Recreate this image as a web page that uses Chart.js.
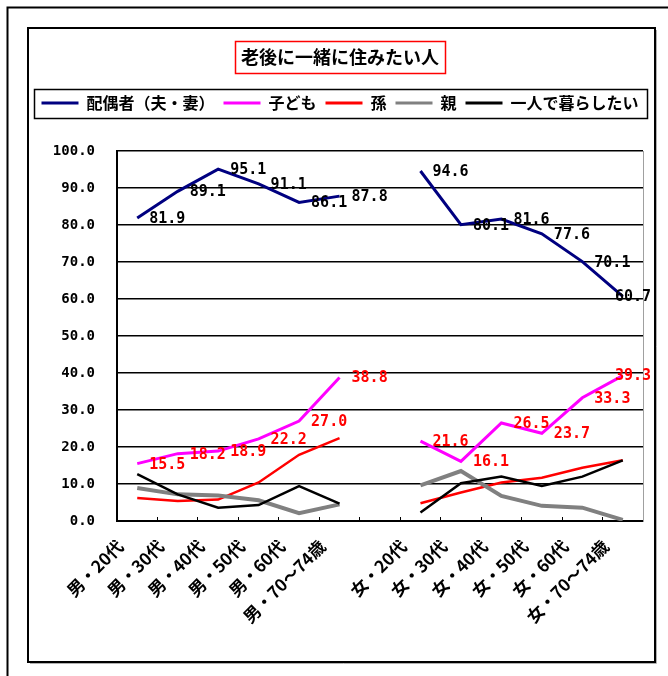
<!DOCTYPE html>
<html lang="ja">
<head>
<meta charset="utf-8">
<title>老後に一緒に住みたい人</title>
<script src="https://cdn.jsdelivr.net/npm/chart.js@4/dist/chart.umd.min.js"></script>
<style>
html, body { margin: 0; padding: 0; background: #fff; }
canvas { display: block; }
</style>
</head>
<body>
<canvas id="c" width="668" height="676"></canvas>
<script>
// Categories (blank slot separates the men's and women's groups)
const categories = ['男・20代', '男・30代', '男・40代', '男・50代', '男・60代', '男・70～74歳', '',
                    '女・20代', '女・30代', '女・40代', '女・50代', '女・60代', '女・70～74歳'];

// Series values (%)
const spouse        = [81.9, 89.1, 95.1, 91.1, 86.1, 87.8, null, 94.6, 80.1, 81.6, 77.6, 70.1, 60.7];
const children      = [15.5, 18.2, 18.9, 22.2, 27.0, 38.8, null, 21.6, 16.1, 26.5, 23.7, 33.3, 39.3];
const grandchildren = [6.2, 5.4, 5.8, 10.4, 17.9, 22.4, null, 4.8, 7.7, 10.4, 11.7, 14.4, 16.4];
const parents       = [8.9, 7.2, 6.9, 5.6, 2.1, 4.5, null, 9.6, 13.5, 6.8, 4.1, 3.6, 0.3];
const alone         = [12.7, 7.2, 3.6, 4.3, 9.4, 4.7, null, 2.3, 10.2, 12.0, 9.5, 12.0, 16.4];

const seriesNames = ['配偶者（夫・妻）', '子ども', '孫', '親', '一人で暮らしたい'];
const chartTitle = '老後に一緒に住みたい人';

// Value axis
const yMin = 0, yMax = 100, yStep = 10;

const CJK = '"Noto Sans CJK JP", sans-serif';
const NUM = '"DejaVu Sans Mono", "Noto Sans CJK JP", monospace';

const TITLE_SIZE = 18;
const TITLE_PAD = { top: 46, bottom: 18.4 };

// White page, sheet frame, chart frame, title box and legend box
const frames = {
  id: 'frames',
  beforeDraw(chart) {
    const ctx = chart.ctx;
    ctx.save();
    ctx.fillStyle = '#fff';
    ctx.fillRect(0, 0, chart.width, chart.height);
    ctx.restore();
  },
  afterDraw(chart) {
    const ctx = chart.ctx;
    ctx.save();
    // sheet frame
    ctx.strokeStyle = '#000';
    ctx.lineWidth = 2;
    ctx.beginPath();
    ctx.moveTo(7.5, chart.height);
    ctx.lineTo(7.5, 7.5);
    ctx.lineTo(chart.width, 7.5);
    ctx.stroke();
    // chart frame with a light shadow
    ctx.strokeStyle = '#b0b0b0';
    ctx.lineWidth = 1;
    ctx.beginPath();
    ctx.moveTo(30, 663.5);
    ctx.lineTo(656.5, 663.5);
    ctx.lineTo(656.5, 30);
    ctx.stroke();
    ctx.strokeStyle = '#000';
    ctx.lineWidth = 2;
    ctx.strokeRect(28, 28, 627, 634);

    // title box
    const tb = chart.titleBlock;
    if (tb) {
      ctx.font = 'bold ' + TITLE_SIZE + 'px ' + CJK;
      const w = ctx.measureText(chartTitle).width;
      const cx = (tb.left + tb.right) / 2;
      const cy = tb.top + TITLE_PAD.top + TITLE_SIZE * 1.2 / 2;
      ctx.strokeStyle = '#ff0000';
      ctx.lineWidth = 1.5;
      ctx.strokeRect(Math.round(cx - w / 2 - 6) + 0.5, Math.round(cy - 16) + 0.5, Math.round(w + 12), 32);
    }

    // legend box
    const lg = chart.legend;
    if (lg && lg.legendHitBoxes && lg.legendHitBoxes.length) {
      const hb = lg.legendHitBoxes;
      const left = Math.min(...hb.map(h => h.left)) - 7;
      const right = Math.max(...hb.map(h => h.left + h.width)) + 9;
      ctx.strokeStyle = '#000';
      ctx.lineWidth = 1.5;
      ctx.strokeRect(Math.round(left) + 0.5, Math.round(lg.top + 3) + 0.5, Math.round(right - left), 29);
    }
    ctx.restore();
  }
};

// Extra room between the legend and the plot area
const legendSpacer = {
  id: 'legendSpacer',
  beforeLayout(chart) {
    const lg = chart.legend;
    if (lg && !lg._spaced) {
      const fit = lg.fit;
      lg.fit = function () { fit.call(this); this.height += 30; };
      lg._spaced = true;
    }
  }
};

// Value labels for the spouse (black) and children (red) series
const valueLabels = {
  id: 'valueLabels',
  afterDatasetsDraw(chart) {
    const ctx = chart.ctx;
    ctx.save();
    ctx.font = 'bold 15px ' + NUM;
    ctx.textBaseline = 'middle';
    ctx.textAlign = 'left';
    [[0, '#000000'], [1, '#ff0000']].forEach(([di, color]) => {
      const ds = chart.data.datasets[di];
      chart.getDatasetMeta(di).data.forEach((pt, j) => {
        const v = ds.data[j];
        if (v === null || v === undefined) return;
        const text = v.toFixed(1);
        const w = ctx.measureText(text).width;
        let x = pt.x + 12;
        const maxX = chart.chartArea.right + 8;
        if (x + w > maxX) x = maxX - w;
        ctx.fillStyle = color;
        ctx.fillText(text, x, pt.y + 1);
      });
    });
    ctx.restore();
  }
};

new Chart(document.getElementById('c'), {
  type: 'line',
  data: {
    labels: categories,
    datasets: [
      { label: seriesNames[0], data: spouse,        borderColor: '#000080', backgroundColor: '#000080', borderWidth: 3,   order: 5 },
      { label: seriesNames[1], data: children,      borderColor: '#ff00ff', backgroundColor: '#ff00ff', borderWidth: 3,   order: 4 },
      { label: seriesNames[2], data: grandchildren, borderColor: '#ff0000', backgroundColor: '#ff0000', borderWidth: 2.5, order: 3 },
      { label: seriesNames[3], data: parents,       borderColor: '#808080', backgroundColor: '#808080', borderWidth: 4,   order: 2 },
      { label: seriesNames[4], data: alone,         borderColor: '#000000', backgroundColor: '#000000', borderWidth: 2.5, order: 1 }
    ]
  },
  options: {
    responsive: false,
    animation: false,
    devicePixelRatio: 1,
    spanGaps: false,
    layout: { padding: { left: 30, right: 18, top: 0, bottom: 0 } },
    elements: {
      point: { radius: 0, hoverRadius: 0 },
      line: { tension: 0, fill: false }
    },
    plugins: {
      tooltip: { enabled: false },
      title: {
        display: true,
        text: chartTitle,
        color: '#000',
        font: { family: CJK, size: TITLE_SIZE, weight: 'bold' },
        padding: TITLE_PAD
      },
      legend: {
        display: true,
        position: 'top',
        labels: {
          boxWidth: 37,
          boxHeight: 3,
          padding: 9,
          color: '#000',
          font: { family: CJK, size: 16, weight: 'bold' },
          generateLabels(chart) {
            return Chart.defaults.plugins.legend.labels.generateLabels(chart)
              .map(item => Object.assign(item, { fillStyle: item.strokeStyle, lineWidth: 0 }));
          },
          sort: (a, b) => a.datasetIndex - b.datasetIndex
        }
      }
    },
    scales: {
      x: {
        type: 'category',
        offset: true,
        grid: { offset: true, display: true, drawOnChartArea: false, drawTicks: true, tickLength: -4, color: '#000', lineWidth: 1 },
        border: { display: true, color: '#000', width: 2 },
        ticks: {
          autoSkip: false,
          minRotation: 45,
          maxRotation: 45,
          labelOffset: -17,
          padding: 19,
          color: '#000',
          font: { family: CJK, size: 17, weight: 'bold' }
        },
        afterFit(s) { s.height = 155; }
      },
      y: {
        min: yMin,
        max: yMax,
        ticks: {
          stepSize: yStep,
          callback: v => Number(v).toFixed(1),
          padding: 22,
          color: '#000',
          font: { family: NUM, size: 14, weight: 'bold' }
        },
        grid: { color: '#000', lineWidth: 1.5, drawTicks: false },
        border: { display: true, color: '#000', width: 2 },
        afterFit(s) { s.width = 87; }
      },
      y1: {
        position: 'right',
        min: yMin,
        max: yMax,
        display: true,
        grid: { drawOnChartArea: false, drawTicks: false },
        ticks: { display: false },
        border: { display: true, color: '#a0a0a0', width: 1 },
        afterFit(s) { s.width = 7; }
      }
    }
  },
  plugins: [frames, legendSpacer, valueLabels]
});
</script>
</body>
</html>
